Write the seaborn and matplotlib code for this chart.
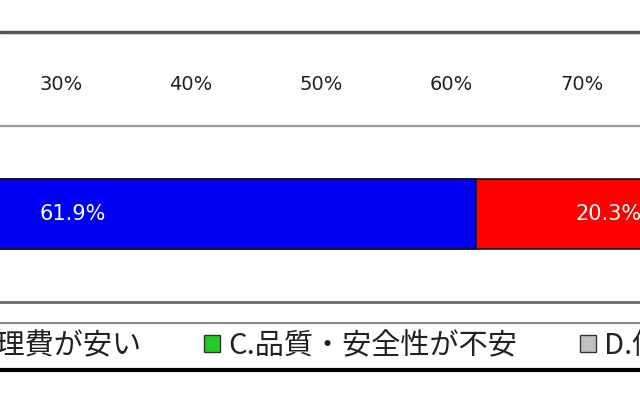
import matplotlib
matplotlib.use('Agg')
import matplotlib.pyplot as plt
from matplotlib.lines import Line2D
from matplotlib.patches import Patch
from matplotlib.font_manager import FontProperties
import numpy as np
import pandas as pd
import seaborn as sns

# legend entries (C and D segments lie outside the visible crop)
categories = ['A.価格が安い', 'B.管理費が安い', 'C.品質・安全性が不安', 'D.価格が高い']
colors = ['#0000F4', '#FF0000', '#22CC22', '#C0C0C0']
row_label = ['全体']
seg_values = [61.9, 20.3]          # A, B shares in %
tick_values = [30, 40, 50, 60, 70]
tick_labels = ['30%', '40%', '50%', '60%', '70%']

sns.set_style('white')
plt.rcParams['font.family'] = ['DejaVu Sans', 'Noto Sans CJK JP']

fig = plt.figure(figsize=(6.4, 4.0), dpi=100)
ax = fig.add_axes([0, 1 - 302 / 400, 1, (302 - 126) / 400])

lefts = np.concatenate([[0], np.cumsum(seg_values)[:-1]])
cums = np.cumsum(seg_values)
# stacked bar: draw cumulative totals from the longest down
for i in reversed(range(len(seg_values))):
    df = pd.DataFrame({'row': row_label, 'value': [cums[i]]})
    sns.barplot(data=df, x='value', y='row', color=colors[i], width=0.4,
                edgecolor='#151515', linewidth=1.2, saturation=1, ax=ax)

for left, v in zip(lefts, seg_values):
    ax.text(left + v / 2, 0, f'{v:.1f}%', ha='center', va='center',
            color='white', fontsize=15)

ax.set_xlim(25.34, 74.47)
ax.set_ylim(0.5, -0.5)
ax.set_xticks(tick_values)
ax.set_xticklabels(tick_labels, fontsize=14, color='#222222')
ax.xaxis.tick_top()
ax.tick_params(axis='x', length=0, pad=23)
ax.set_yticks([])
ax.set_xlabel('')
ax.set_ylabel('')
for side in ['left', 'right']:
    ax.spines[side].set_visible(False)
ax.spines['top'].set_color('#999999')
ax.spines['top'].set_linewidth(1.6)
ax.spines['bottom'].set_color('#6a6a6a')
ax.spines['bottom'].set_linewidth(2.0)

# chart frame / legend box lines
fig.add_artist(Line2D([0, 1], [1 - 32 / 400] * 2, color='#555555', lw=2.5))
fig.add_artist(Line2D([0, 1], [1 - 323 / 400] * 2, color='#888888', lw=1.5))
fig.add_artist(Line2D([0, 1], [1 - 370 / 400] * 2, color='#000000', lw=3.0))

handles = [Patch(facecolor=c, edgecolor='#333333', linewidth=1) for c in colors]
fig.legend(handles, categories, ncol=4, loc='center left',
           bbox_to_anchor=(-344 / 640, 1 - 346 / 400), frameon=False,
           borderpad=0, borderaxespad=0,
           prop=FontProperties(family=['Noto Sans CJK JP', 'DejaVu Sans'], size=21),
           handlelength=0.55, handleheight=0.55, handletextpad=0.28,
           columnspacing=2.16, labelcolor='#222222')

fig.savefig('out.png', dpi=100, facecolor='white')
plt.close(fig)
